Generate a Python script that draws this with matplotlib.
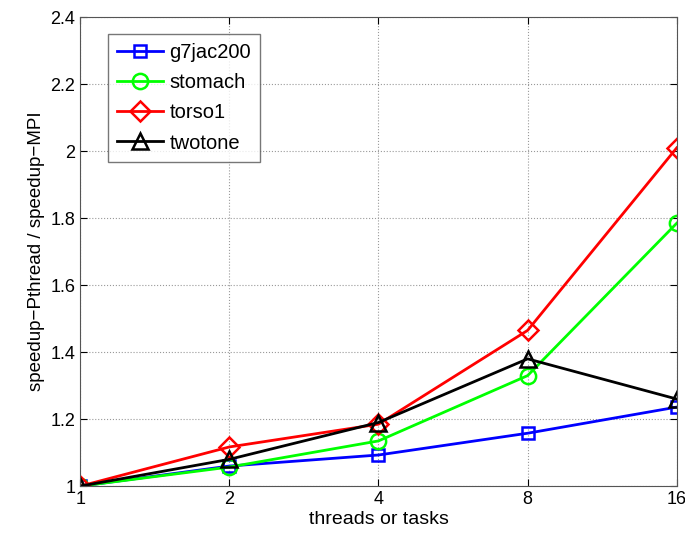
import matplotlib
matplotlib.use("Agg")
import matplotlib.pyplot as plt
from matplotlib.ticker import FixedLocator, FixedFormatter, NullLocator

threads = [1, 2, 4, 8, 16]
g7jac200 = [1.0, 1.06, 1.093, 1.158, 1.236]
stomach = [1.0, 1.057, 1.135, 1.33, 1.785]
torso1 = [1.0, 1.117, 1.185, 1.465, 2.01]
twotone = [1.0, 1.08, 1.19, 1.38, 1.26]

SERIES = [("g7jac200", g7jac200, "#0000ff", "s"),
          ("stomach", stomach, "#00ff00", "o"),
          ("torso1", torso1, "#ff0000", "D"),
          ("twotone", twotone, "#000000", "^")]
SIZES = {"s": 9, "o": 11, "D": 10, "^": 11}

plt.rcParams["font.family"] = ["Liberation Sans", "DejaVu Sans"]

fig = plt.figure(figsize=(6.85, 5.36), dpi=100)
ax = fig.add_axes([0.117, 0.093, 0.871, 0.875])

for label, vals, color, marker in SERIES:
    ax.plot(threads, vals, color=color, marker=marker, lw=2, ms=SIZES[marker],
            mfc="none", mew=1.8, label=label)

ax.set_xscale("log", base=2)
ax.set_xlim(1, 16)
ax.xaxis.set_major_locator(FixedLocator(threads))
ax.xaxis.set_major_formatter(FixedFormatter([str(t) for t in threads]))
ax.xaxis.set_minor_locator(NullLocator())
ax.set_ylim(1, 2.4)
yt = [1, 1.2, 1.4, 1.6, 1.8, 2, 2.2, 2.4]
ax.set_yticks(yt)
ax.set_yticklabels(["1", "1.2", "1.4", "1.6", "1.8", "2", "2.2", "2.4"])
ax.tick_params(direction="in", top=True, right=True, labelsize=13, length=5)
ax.grid(True, linestyle=":", color="#999999", lw=0.8)
for s in ax.spines.values():
    s.set_color("#555555")

ax.set_xlabel("threads or tasks", fontsize=14, labelpad=2)
ax.set_ylabel("speedup\u2212Pthread / speedup\u2212MPI", fontsize=13.5)

leg = ax.legend(loc="upper left", bbox_to_anchor=(0.03, 0.985), fontsize=14.5,
                fancybox=False, edgecolor="#555555", handlelength=2.3,
                borderpad=0.45, labelspacing=0.55, handletextpad=0.3)
leg.get_frame().set_linewidth(1.0)

fig.savefig("out.png", dpi=100)
